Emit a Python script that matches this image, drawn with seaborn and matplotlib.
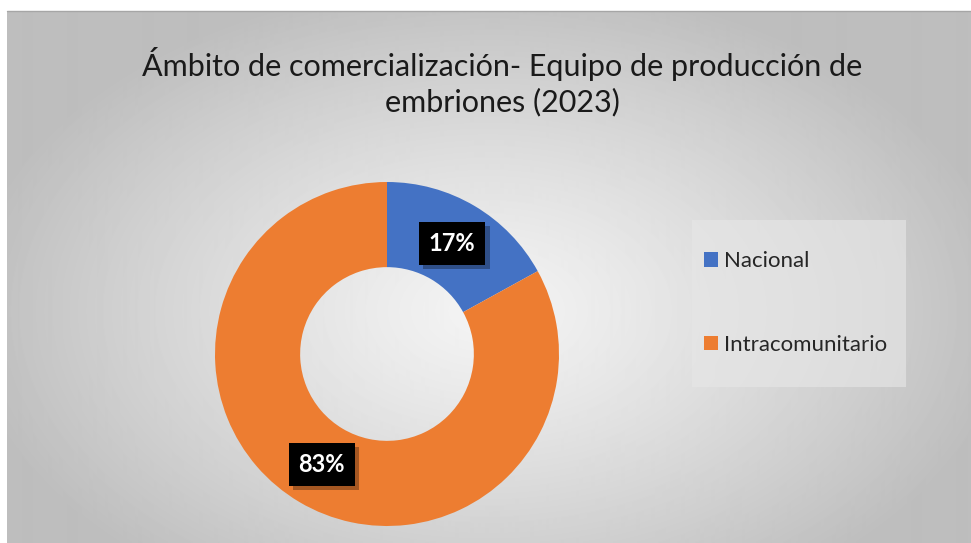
import numpy as np
import seaborn as sns
import matplotlib.pyplot as plt
import matplotlib.patheffects as pe
from matplotlib.patches import Rectangle

categories = ["Nacional", "Intracomunitario"]
shares = [17, 83]
labels = ["17%", "83%"]
title = "Ámbito de comercialización- Equipo de producción de\nembriones (2023)"

sns.set_theme(style="white")
plt.rcParams['font.family'] = ['Lato', 'DejaVu Sans']
colors = ["#4472C4", "#ED7D31"]

W, H = 971, 543
fig = plt.figure(figsize=(W / 100, H / 100), dpi=100)
fig.patch.set_facecolor("white")

# radial gradient background of the chart area
bg = fig.add_axes([7 / W, 0, 1 - 7 / W, (H - 11) / H])
yy, xx = np.mgrid[0:532, 0:964]
d = np.sqrt(((xx - 480) / 520.0) ** 2 + ((yy - 300) / 330.0) ** 2)
val = 0.955 - (0.955 - 0.745) * np.clip(d, 0, 1) ** 1.2
bg.imshow(val, cmap="gray", vmin=0, vmax=1, aspect="auto", interpolation="bilinear")
bg.set_axis_off()
fig.add_artist(plt.Line2D([7 / W, 1], [(H - 11) / H, (H - 11) / H], color="#A6A6A6", lw=1))

# donut
cx, cy, R = 387, 354, 172
ax = fig.add_axes([(cx - R) / W, (H - cy - R) / H, 2 * R / W, 2 * R / H])
wedges, _ = ax.pie(shares, colors=colors, startangle=90, counterclock=False,
                   radius=1, wedgeprops=dict(width=0.495, edgecolor="none"))
ax.set_xlim(-1, 1)
ax.set_ylim(-1, 1)
ax.set_aspect("equal")
ax.set_axis_off()

start = 90
for s, lab in zip(shares, labels):
    ang = np.deg2rad(start - s * 3.6 / 2)
    start -= s * 3.6
    t = ax.text(0.745 * np.cos(ang), 0.745 * np.sin(ang), lab, ha="center", va="center",
                color="white", fontsize=17, fontweight="bold",
                bbox=dict(boxstyle="square,pad=0.42", facecolor="black", edgecolor="none"))
    t.get_bbox_patch().set_path_effects([pe.SimplePatchShadow(offset=(3, -3), alpha=0.3),
                                         pe.Normal()])

fig.text(502 / W, 1 - 82 / H, title, ha="center", va="center", fontsize=22,
         color="#1a1a1a", linespacing=1.3)

# legend
fig.add_artist(Rectangle((692 / W, 1 - 387 / H), (906 - 692) / W, (387 - 220) / H,
                         transform=fig.transFigure, facecolor="#E6E6E6", alpha=0.65,
                         edgecolor="none"))
leg = fig.legend(wedges, categories, loc="center left", bbox_to_anchor=(704 / W, 1 - 303 / H),
                 frameon=False, fontsize=16, labelspacing=2.85, handlelength=0.62,
                 handleheight=0.62, handletextpad=0.3, borderaxespad=0, borderpad=0)

fig.savefig("out.png", dpi=100)
